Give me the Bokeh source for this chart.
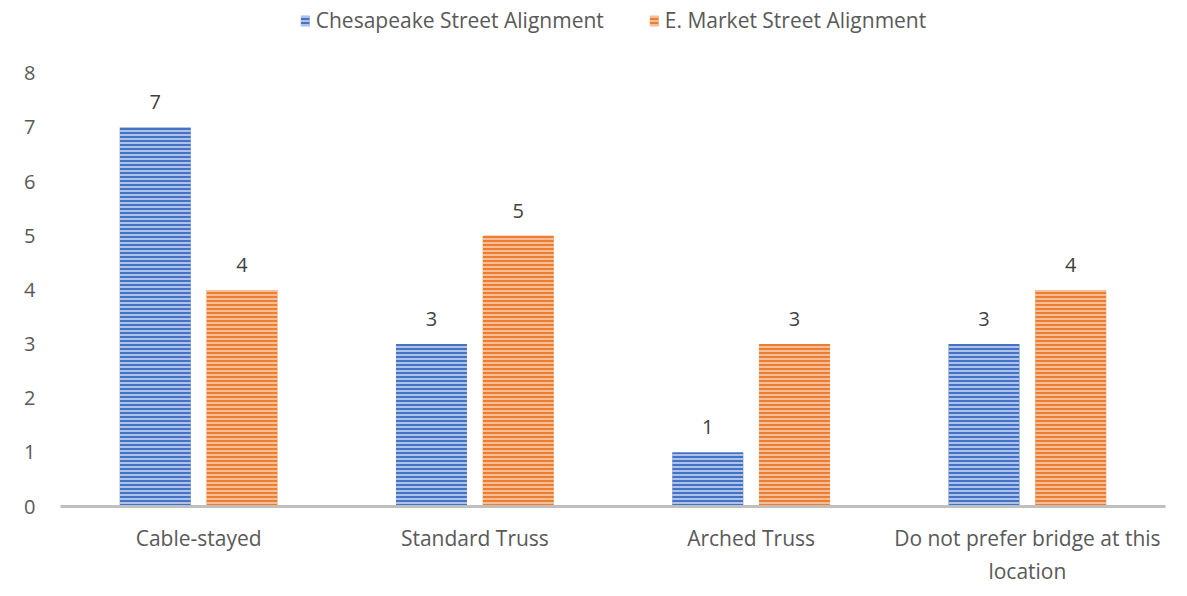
from bokeh.plotting import figure
from bokeh.models import ColumnDataSource, FactorRange, Legend, LegendItem, Range1d
from bokeh.transform import dodge
from bokeh.core.properties import value
from bokeh.embed import file_html
from bokeh.resources import INLINE

categories = ["Cable-stayed", "Standard Truss", "Arched Truss", "Do not prefer bridge at this\nlocation"]
chesapeake = [7, 3, 1, 3]
market = [4, 5, 3, 4]
series_names = ["Chesapeake Street Alignment", "E. Market Street Alignment"]
y_ticks = [0, 1, 2, 3, 4, 5, 6, 7, 8]

FONT = "Open Sans"

src = ColumnDataSource(dict(cat=categories, a=chesapeake, b=market,
                            at=[str(v) for v in chesapeake], bt=[str(v) for v in market]))

# frame spans from top of canvas to the zero line; y ticks only 0..8
p = figure(width=1179, height=588, x_range=FactorRange(*categories), y_range=Range1d(0, 9.345),
           output_backend="svg", toolbar_location=None,
           min_border_left=60, min_border_right=14, min_border_top=0, min_border_bottom=81)
p.outline_line_color = None
p.xgrid.visible = False
p.ygrid.visible = False

bw = 0.257
off = 0.157
r1 = p.vbar(x=dodge("cat", -off, range=p.x_range), top="a", width=bw, source=src,
            fill_color="#4472C4", line_color=None,
            hatch_pattern="horizontal_line", hatch_color="#c9d6ef", hatch_scale=4, hatch_weight=1.6)
r2 = p.vbar(x=dodge("cat", off, range=p.x_range), top="b", width=bw, source=src,
            fill_color="#ED7D31", line_color=None,
            hatch_pattern="horizontal_line", hatch_color="#f9cfb1", hatch_scale=4, hatch_weight=1.6)

p.text(x=dodge("cat", -off, range=p.x_range), y="a", text="at", source=src, y_offset=-25,
       text_align="center", text_baseline="middle", text_font=value(FONT),
       text_font_size="20px", text_color="#404040")
p.text(x=dodge("cat", off, range=p.x_range), y="b", text="bt", source=src, y_offset=-25,
       text_align="center", text_baseline="middle", text_font=value(FONT),
       text_font_size="20px", text_color="#404040")

p.yaxis.ticker = y_ticks
p.yaxis.axis_line_color = None
p.yaxis.major_tick_line_color = None
p.yaxis.minor_tick_line_color = None
p.yaxis.major_label_standoff = 19
p.yaxis.major_label_text_font = FONT
p.yaxis.major_label_text_font_size = "20px"
p.yaxis.major_label_text_color = "#595959"

p.xaxis.axis_line_color = "#BFBFBF"
p.xaxis.axis_line_width = 3
p.xaxis.major_tick_line_color = None
p.xaxis.minor_tick_line_color = None
p.xaxis.major_label_standoff = 11
p.xaxis.major_label_text_font = FONT
p.xaxis.major_label_text_font_size = "21px"
p.xaxis.major_label_text_color = "#595959"

legend = Legend(items=[LegendItem(label=series_names[0], renderers=[r1]),
                       LegendItem(label=series_names[1], renderers=[r2])],
                orientation="horizontal", location="top_center",
                glyph_width=11, glyph_height=13, spacing=44, label_standoff=6,
                label_text_font=FONT, label_text_font_size="21px", label_text_color="#595959",
                border_line_color=None, background_fill_alpha=0, padding=4, margin=6)
p.add_layout(legend, "center")

open("out.html", "w").write(file_html(p, INLINE))
